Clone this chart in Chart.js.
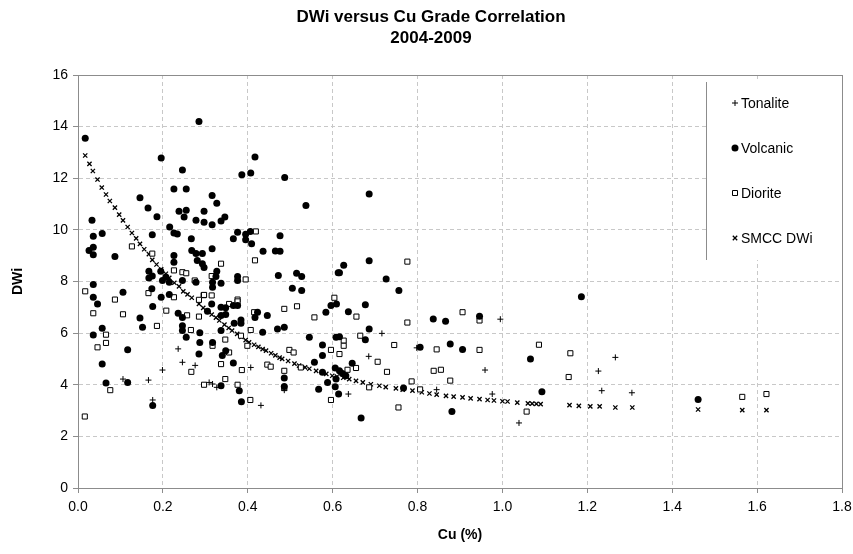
<!DOCTYPE html>
<html>
<head>
<meta charset="utf-8">
<title>DWi versus Cu Grade Correlation</title>
<script src="https://cdn.jsdelivr.net/npm/chart.js@4.4.1/dist/chart.umd.min.js"></script>
<style>
  html, body { margin: 0; padding: 0; background: #fff; }
  #wrap { width: 853px; height: 554px; }
</style>
</head>
<body>
<div id="wrap"><canvas id="dwiChart" width="853" height="554"></canvas></div>
<script>
// valores (Cu % / DWi)
var tonaliteCu = [0.236, 0.199, 0.246, 0.276, 0.166, 0.106, 0.176, 0.407, 0.309, 0.317, 0.327, 0.431, 0.486,
    0.716, 0.685, 0.798, 0.995, 0.959, 0.845, 0.637, 0.976, 1.266, 1.226, 1.234, 1.305, 1.039];
var tonaliteDwi = [5.39, 4.57, 4.87, 4.75, 4.18, 4.22, 3.41, 4.67, 4.09, 4.03, 3.90, 3.20, 3.79,
    5.99, 5.10, 5.43, 6.54, 4.57, 3.81, 3.64, 3.64, 5.06, 4.53, 3.77, 3.69, 2.52];

var volcanicCu = [0.017, 0.285, 0.196, 0.246, 0.146, 0.226, 0.255, 0.165, 0.186, 0.238, 0.255, 0.250, 0.297, 0.278,
    0.297, 0.033, 0.036, 0.057, 0.026, 0.036, 0.036, 0.087, 0.175, 0.216, 0.226, 0.234, 0.267, 0.268, 0.278, 0.293,
    0.281, 0.293, 0.226, 0.226, 0.167, 0.167, 0.175, 0.195, 0.199, 0.207, 0.215, 0.246, 0.278, 0.036, 0.036, 0.106,
    0.196, 0.215, 0.174, 0.417, 0.386, 0.407, 0.487, 0.537, 0.316, 0.327, 0.316, 0.337, 0.346, 0.376, 0.366, 0.395,
    0.406, 0.395, 0.409, 0.476, 0.436, 0.465, 0.476, 0.316, 0.297, 0.327, 0.325, 0.317, 0.317, 0.337, 0.376, 0.376,
    0.472, 0.515, 0.527, 0.505, 0.527, 0.613, 0.686, 0.686, 0.626, 0.616, 0.726, 0.756, 0.046, 0.057, 0.036, 0.117,
    0.057, 0.066, 0.117, 0.146, 0.152, 0.176, 0.176, 0.236, 0.246, 0.246, 0.246, 0.255, 0.287, 0.287, 0.285, 0.305,
    0.315, 0.337, 0.348, 0.337, 0.348, 0.366, 0.376, 0.423, 0.417, 0.446, 0.368, 0.384, 0.384, 0.337, 0.317, 0.348,
    0.340, 0.366, 0.435, 0.470, 0.486, 0.545, 0.576, 0.576, 0.584, 0.596, 0.609, 0.608, 0.557, 0.576, 0.588, 0.608,
    0.486, 0.486, 0.567, 0.380, 0.337, 0.385, 0.677, 0.637, 0.686, 0.616, 0.677, 0.837, 0.866, 0.946, 0.806, 0.877,
    0.906, 0.646, 0.606, 0.616, 0.623, 0.631, 0.606, 0.614, 0.767, 0.667, 0.881, 1.186, 1.066, 1.093, 1.461];
var volcanicDwi = [13.55, 14.20, 12.78, 12.32, 11.24, 11.58, 11.58, 10.85, 10.51, 10.72, 10.76, 10.50, 10.72, 10.37,
    10.30, 10.37, 9.75, 9.86, 9.20, 9.33, 9.04, 8.97, 9.81, 10.11, 9.88, 9.84, 9.66, 9.20, 9.08, 9.08,
    8.81, 8.69, 9.01, 8.75, 8.40, 8.14, 8.21, 8.40, 8.04, 8.17, 7.97, 8.04, 7.97, 7.88, 7.39, 7.58,
    7.39, 7.50, 7.72, 12.82, 12.14, 12.20, 12.03, 10.94, 11.33, 11.03, 10.20, 10.34, 10.50, 9.91, 9.66, 9.83,
    9.94, 9.62, 9.46, 9.77, 9.17, 9.18, 9.17, 9.27, 8.54, 8.40, 8.19, 7.97, 7.78, 7.93, 8.19, 8.04,
    8.23, 8.32, 8.19, 7.74, 7.65, 8.34, 11.39, 8.80, 8.63, 8.34, 8.10, 7.65, 7.13, 6.19, 5.93, 5.36,
    4.80, 4.07, 4.09, 6.59, 6.23, 7.03, 3.20, 6.77, 6.61, 6.29, 6.10, 5.84, 6.01, 5.64, 5.19, 6.85,
    7.13, 7.00, 6.98, 6.68, 6.72, 7.07, 7.07, 6.81, 6.61, 6.68, 6.38, 6.38, 6.51, 6.10, 5.64, 5.32,
    5.13, 4.84, 6.03, 6.16, 6.23, 5.84, 5.54, 5.13, 6.81, 7.07, 7.13, 5.84, 4.87, 4.48, 4.09, 4.22,
    4.26, 3.93, 3.83, 3.77, 3.96, 3.34, 7.10, 6.83, 6.16, 5.86, 5.74, 6.55, 6.46, 6.65, 5.45, 5.58,
    5.37, 4.83, 4.65, 4.54, 4.44, 4.35, 3.92, 3.64, 3.87, 2.71, 2.96, 7.41, 5.00, 3.73, 3.43];

var dioriteCu = [0.127, 0.175, 0.226, 0.246, 0.255, 0.275, 0.296, 0.017, 0.087, 0.166, 0.226, 0.285, 0.419, 0.417,
    0.337, 0.395, 0.315, 0.297, 0.315, 0.376, 0.604, 0.776, 0.036, 0.106, 0.208, 0.186, 0.066, 0.066, 0.046, 0.266,
    0.257, 0.285, 0.267, 0.297, 0.076, 0.016, 0.376, 0.356, 0.415, 0.486, 0.516, 0.557, 0.407, 0.384, 0.347, 0.317,
    0.356, 0.399, 0.498, 0.508, 0.337, 0.386, 0.446, 0.454, 0.486, 0.525, 0.596, 0.347, 0.376, 0.486, 0.406, 0.596,
    0.656, 0.776, 0.906, 0.946, 0.665, 0.626, 0.626, 0.616, 0.745, 0.845, 0.946, 0.706, 0.635, 0.655, 0.728, 0.838,
    0.855, 0.877, 0.786, 0.686, 0.806, 0.755, 1.086, 1.160, 1.156, 1.057, 1.565, 1.622];
var dioriteDwi = [9.36, 9.08, 8.43, 8.36, 8.32, 8.04, 7.47, 7.62, 7.30, 7.55, 7.39, 7.29, 9.94, 8.82,
    8.69, 8.08, 8.21, 7.48, 7.46, 7.30, 7.37, 8.77, 6.77, 6.73, 6.87, 6.28, 5.94, 5.62, 5.45, 6.12,
    6.69, 6.64, 4.50, 4.00, 3.79, 2.77, 7.23, 7.13, 6.81, 6.94, 7.04, 6.61, 6.12, 5.90, 5.75, 5.51,
    5.25, 5.51, 5.35, 5.25, 4.80, 4.57, 4.78, 4.70, 4.54, 4.67, 5.35, 4.22, 4.00, 3.87, 3.41, 3.41,
    6.64, 6.41, 6.81, 6.49, 5.90, 5.71, 5.51, 5.19, 5.54, 5.37, 5.35, 4.89, 4.58, 4.65, 4.50, 4.54,
    4.58, 4.16, 4.13, 3.90, 3.82, 3.12, 5.55, 5.22, 4.30, 2.96, 3.53, 3.64];

var smccCu = [0.017, 0.027, 0.035, 0.046, 0.056, 0.066, 0.075, 0.087, 0.097, 0.106, 0.117, 0.127, 0.137, 0.146,
    0.156, 0.167, 0.175, 0.185, 0.196, 0.207, 0.215, 0.227, 0.238, 0.248, 0.258, 0.268, 0.285, 0.295, 0.305, 0.315,
    0.325, 0.333, 0.345, 0.355, 0.363, 0.375, 0.385, 0.395, 0.403, 0.415, 0.425, 0.435, 0.443, 0.455, 0.465, 0.475,
    0.481, 0.495, 0.510, 0.521, 0.535, 0.545, 0.561, 0.575, 0.585, 0.599, 0.610, 0.625, 0.639, 0.655, 0.671, 0.690,
    0.710, 0.725, 0.749, 0.765, 0.788, 0.810, 0.828, 0.845, 0.867, 0.885, 0.906, 0.925, 0.946, 0.965, 0.980, 1.000,
    1.012, 1.035, 1.060, 1.070, 1.080, 1.090, 1.158, 1.180, 1.207, 1.229, 1.266, 1.306, 1.461, 1.565, 1.622];
var smccDwi = [12.88, 12.56, 12.28, 11.95, 11.64, 11.37, 11.12, 10.86, 10.59, 10.37, 10.11, 9.88, 9.67, 9.46,
    9.25, 9.06, 8.84, 8.66, 8.47, 8.30, 8.14, 7.95, 7.81, 7.62, 7.50, 7.37, 7.13, 6.98, 6.85, 6.72,
    6.60, 6.49, 6.33, 6.20, 6.10, 5.97, 5.85, 5.73, 5.64, 5.55, 5.47, 5.38, 5.32, 5.22, 5.14, 5.05,
    5.00, 4.92, 4.82, 4.74, 4.67, 4.62, 4.54, 4.48, 4.42, 4.35, 4.32, 4.27, 4.22, 4.15, 4.09, 4.02,
    3.96, 3.91, 3.86, 3.81, 3.77, 3.71, 3.66, 3.62, 3.57, 3.54, 3.51, 3.47, 3.44, 3.41, 3.39, 3.36,
    3.35, 3.31, 3.28, 3.27, 3.26, 3.25, 3.21, 3.18, 3.16, 3.16, 3.12, 3.12, 3.04, 3.02, 3.02];

var xTicks = [0, 0.2, 0.4, 0.6, 0.8, 1.0, 1.2, 1.4, 1.6, 1.8];
var yTicks = [0, 2, 4, 6, 8, 10, 12, 14, 16];
var titleLines = ['DWi versus Cu Grade Correlation', '2004-2009'];

var baseFont = 'Arial, "Liberation Sans", sans-serif';

function toPoints(xs, ys) {
    return xs.map(function(x, i) { return { x: x, y: ys[i] }; });
}

// título em duas linhas, centrado como no original (um pouco à direita do centro do canvas)
var chartHeader = {
    id: 'chartHeader',
    afterDraw: function(chart) {
        var ctx = chart.ctx;
        ctx.save();
        ctx.fillStyle = '#000';
        ctx.font = 'bold 17px ' + baseFont;
        ctx.textAlign = 'center';
        ctx.textBaseline = 'middle';
        titleLines.forEach(function(line, i) {
            ctx.fillText(line, 431, 17 + i * 21.6);
        });
        ctx.restore();
    }
};

// moldura do gráfico (Excel desenha a borda completa)
var plotBorder = {
    id: 'plotBorder',
    afterDraw: function(chart) {
        var a = chart.chartArea;
        var ctx = chart.ctx;
        ctx.save();
        ctx.strokeStyle = '#8c8c8c';
        ctx.lineWidth = 1;
        ctx.strokeRect(Math.round(a.left) + 0.5, Math.round(a.top) + 0.5,
            Math.round(a.right - a.left), Math.round(a.bottom - a.top));
        ctx.restore();
    }
};

function drawMarker(ctx, style, x, y) {
    ctx.save();
    ctx.strokeStyle = '#000';
    ctx.fillStyle = '#000';
    ctx.lineWidth = 1;
    ctx.beginPath();
    if (style === 'circle') {
        ctx.arc(x, y, 3.5, 0, Math.PI * 2);
        ctx.fill();
    } else if (style === 'rect') {
        ctx.fillStyle = '#fff';
        ctx.rect(x - 2.5, y - 2.5, 5, 5);
        ctx.fill();
        ctx.stroke();
    } else if (style === 'cross') {
        ctx.moveTo(x - 3, y); ctx.lineTo(x + 3, y);
        ctx.moveTo(x, y - 3); ctx.lineTo(x, y + 3);
        ctx.stroke();
    } else {
        ctx.lineWidth = 1.3;
        ctx.moveTo(x - 2.2, y - 2.2); ctx.lineTo(x + 2.2, y + 2.2);
        ctx.moveTo(x + 2.2, y - 2.2); ctx.lineTo(x - 2.2, y + 2.2);
        ctx.stroke();
    }
    ctx.restore();
}

// legenda dentro da área do gráfico, como no Excel
var insideLegend = {
    id: 'insideLegend',
    afterDatasetsDraw: function(chart) {
        var ctx = chart.ctx;
        var a = chart.chartArea;
        var left = 706, top = 82, bottom = 260;
        ctx.save();
        ctx.fillStyle = '#fff';
        ctx.fillRect(left, top, a.right - left - 1, bottom - top);
        ctx.strokeStyle = '#8c8c8c';
        ctx.lineWidth = 1;
        ctx.beginPath();
        ctx.moveTo(left + 0.5, top);
        ctx.lineTo(left + 0.5, bottom);
        ctx.stroke();
        ctx.font = '14px ' + baseFont;
        ctx.textBaseline = 'middle';
        ctx.textAlign = 'left';
        chart.data.datasets.forEach(function(ds, i) {
            var y = 103 + i * 45;
            drawMarker(ctx, ds.pointStyle, 735, y);
            ctx.fillStyle = '#000';
            ctx.fillText(ds.label, 741, y + 1);
        });
        ctx.restore();
    }
};

var gridDash = [4, 3];

var ctx = document.getElementById('dwiChart');
window.dwiChart = new Chart(ctx.getContext('2d'), {
    type: 'scatter',
    data: {
        datasets: [{
            label: 'Tonalite',
            data: toPoints(tonaliteCu, tonaliteDwi),
            pointStyle: 'cross',
            pointRadius: 3,
            borderColor: '#000',
            backgroundColor: '#000',
            pointBorderWidth: 1
        }, {
            label: 'Volcanic',
            data: toPoints(volcanicCu, volcanicDwi),
            pointStyle: 'circle',
            pointRadius: 3.5,
            borderColor: '#000',
            backgroundColor: '#000',
            pointBorderWidth: 0
        }, {
            label: 'Diorite',
            data: toPoints(dioriteCu, dioriteDwi),
            pointStyle: 'rect',
            pointRadius: 3.6,
            borderColor: '#000',
            backgroundColor: '#fff',
            pointBorderWidth: 1
        }, {
            label: 'SMCC DWi',
            data: toPoints(smccCu, smccDwi),
            pointStyle: 'crossRot',
            pointRadius: 3,
            borderColor: '#000',
            backgroundColor: '#000',
            pointBorderWidth: 1.3
        }]
    },
    options: {
        responsive: false,
        animation: false,
        layout: { padding: { left: 5, right: 11, top: 75, bottom: 8 } },
        plugins: {
            legend: { display: false },
            tooltip: { enabled: false },
            title: { display: false }
        },
        scales: {
            x: {
                type: 'linear',
                min: 0,
                max: 1.8,
                afterBuildTicks: function(scale) {
                    scale.ticks = xTicks.map(function(v) { return { value: v }; });
                },
                afterFit: function(scale) {
                    scale.height = 58;
                    scale.paddingRight = 0;
                    scale.paddingLeft = 0;
                },
                ticks: {
                    color: '#000',
                    font: { family: baseFont, size: 14 },
                    padding: 6,
                    maxRotation: 0,
                    callback: function(v) { return Number(v).toFixed(1); }
                },
                grid: {
                    color: '#c8c8c8',
                    tickLength: 5,
                    tickColor: '#8c8c8c',
                    tickBorderDash: []
                },
                border: { display: true, color: '#8c8c8c', width: 1, dash: gridDash },
                title: {
                    display: true,
                    text: 'Cu (%)',
                    color: '#000',
                    font: { family: baseFont, size: 14, weight: 'bold' },
                    padding: { top: 4, bottom: 2 }
                }
            },
            y: {
                type: 'linear',
                min: 0,
                max: 16,
                afterBuildTicks: function(scale) {
                    scale.ticks = yTicks.map(function(v) { return { value: v }; });
                },
                afterFit: function(scale) { scale.width = 73; },
                ticks: {
                    color: '#000',
                    font: { family: baseFont, size: 14 },
                    padding: 5
                },
                grid: {
                    color: '#c8c8c8',
                    tickLength: 5,
                    tickColor: '#8c8c8c',
                    tickBorderDash: []
                },
                border: { display: true, color: '#8c8c8c', width: 1, dash: gridDash },
                title: {
                    display: true,
                    text: 'DWi',
                    color: '#000',
                    font: { family: baseFont, size: 14, weight: 'bold' },
                    padding: { top: 5, bottom: 4 }
                }
            }
        }
    },
    plugins: [chartHeader, plotBorder, insideLegend]
});
</script>
</body>
</html>
